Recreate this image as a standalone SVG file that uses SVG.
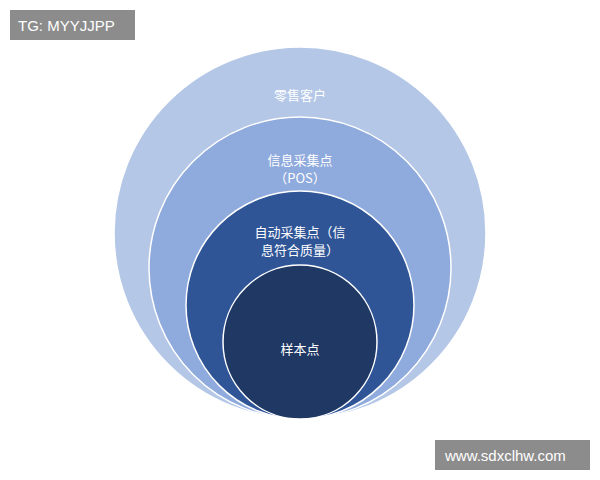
<svg xmlns="http://www.w3.org/2000/svg" width="600" height="480" viewBox="0 0 600 480">
<style>
.c{stroke:#fff;stroke-width:1.5}
.t{font-family:"Noto Sans CJK SC","Noto Sans",sans-serif;font-size:13px;fill:#fff;text-anchor:middle}
.w{font-family:"Liberation Sans",sans-serif;font-size:15px;fill:#fff}
</style>
<rect width="600" height="480" fill="#fff"/>
<g id="n1"><circle class="c" cx="300" cy="233" r="186" fill="#b4c7e7"/><text class="t" x="300" y="100">零售客户</text></g>
<g id="n2"><circle class="c" cx="300" cy="268" r="151" fill="#8faadc"/><text class="t" x="300" y="165">信息采集点</text><text class="t" x="300" y="183">（POS）</text></g>
<g id="n3"><circle class="c" cx="300" cy="305" r="114" fill="#2f5597"/><text class="t" x="300" y="237">自动采集点（信</text><text class="t" x="300" y="255">息符合质量）</text></g>
<g id="n4"><circle class="c" cx="300" cy="342" r="77" fill="#203864"/><text class="t" x="300" y="354">样本点</text></g>
<g id="connectors"></g>
<rect x="10" y="10" width="125" height="30" fill="#8c8c8c"/><text class="w" x="18" y="31">TG: MYYJJPP</text>
<rect x="435" y="440" width="155" height="30" fill="#8c8c8c"/><text class="w" x="445" y="461">www.sdxclhw.com</text>
</svg>
